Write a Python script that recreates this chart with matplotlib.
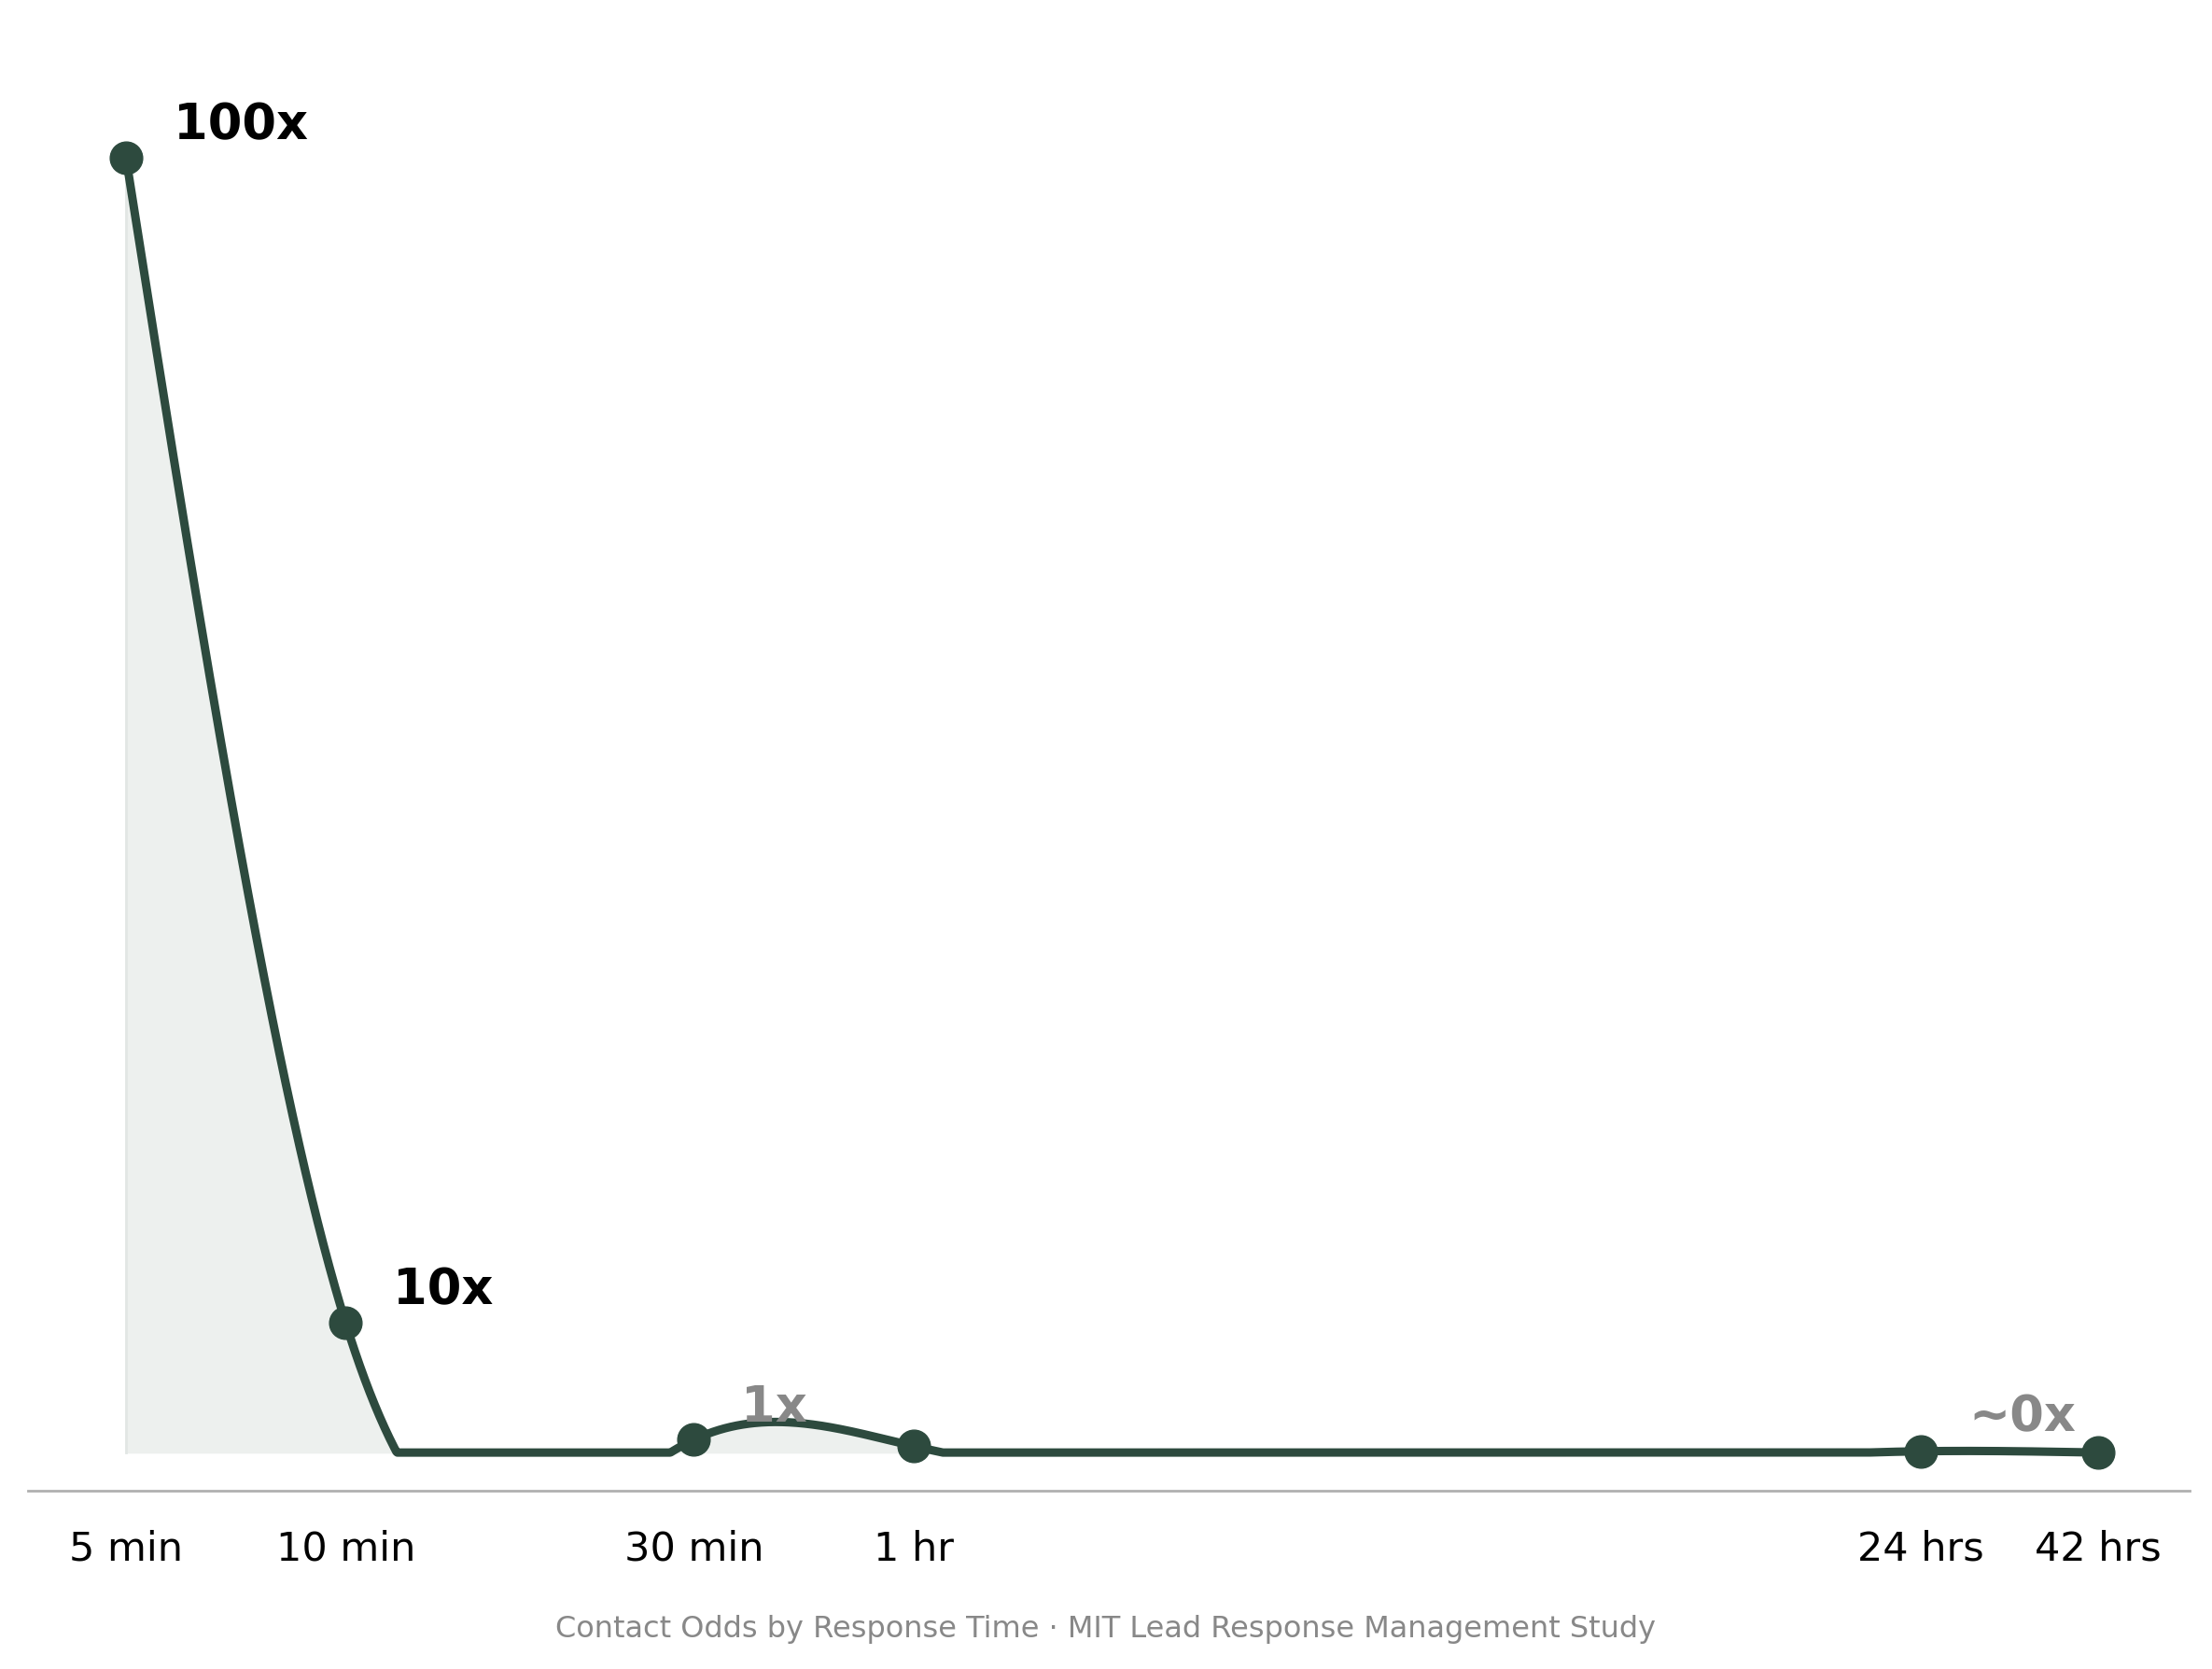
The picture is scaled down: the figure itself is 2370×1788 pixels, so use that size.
import numpy as np
import matplotlib
matplotlib.use("Agg")
import matplotlib.pyplot as plt

labels = ["5 min", "10 min", "30 min", "1 hr", "24 hrs", "42 hrs"]
minutes = [5, 10, 30, 60, 1440, 2520]
odds = [100, 10, 1, 0.5, 0.1, 0.0]
ann_text = ["100x", "10x", "1x", None, "~0x", None]

def natural_spline(x, y, xs):
    x = np.asarray(x, float); y = np.asarray(y, float)
    n = len(x); h = np.diff(x)
    A = np.zeros((n, n)); b = np.zeros(n)
    A[0, 0] = A[-1, -1] = 1
    for i in range(1, n - 1):
        A[i, i - 1] = h[i - 1]; A[i, i] = 2 * (h[i - 1] + h[i]); A[i, i + 1] = h[i]
        b[i] = 3 * ((y[i + 1] - y[i]) / h[i] - (y[i] - y[i - 1]) / h[i - 1])
    c = np.linalg.solve(A, b)
    out = np.empty_like(xs)
    for k, xv in enumerate(xs):
        i = min(max(np.searchsorted(x, xv) - 1, 0), n - 2)
        d = xv - x[i]
        bb = (y[i + 1] - y[i]) / h[i] - h[i] * (2 * c[i] + c[i + 1]) / 3
        dd = (c[i + 1] - c[i]) / (3 * h[i])
        out[k] = y[i] + bb * d + c[i] * d ** 2 + dd * d ** 3
    return out

lx = np.log(minutes)
xs = np.linspace(lx[0], lx[-1], 2000)
ys = np.clip(natural_spline(lx, odds, xs), 0, None)
xe = np.exp(xs)

col = "#2d4a3e"
fig = plt.figure(figsize=(23.7, 17.88), dpi=100)
ax = fig.add_axes([0.0128, 0.1068, 0.977, 0.859])
ax.set_xscale("log")
ax.set_xlim(np.exp(1.301), np.exp(8.12))
ax.set_ylim(-2.95, 107.8)
ax.fill_between(xe, 0, ys, color="#edf0ee", zorder=1)
ax.plot([minutes[0], minutes[0]], [0, odds[0]], color="#e2e6e4", lw=2, zorder=1)
ax.plot(xe, ys, color=col, lw=6.5, zorder=2, solid_capstyle="round")
ax.plot(minutes, odds, "o", color=col, ms=25, zorder=3)
for s in ["top", "left", "right"]:
    ax.spines[s].set_visible(False)
ax.spines["bottom"].set_color("#b0b0b0")
ax.spines["bottom"].set_linewidth(2)
ax.set_yticks([])
ax.set_xticks(minutes)
ax.set_xticklabels(labels, fontsize=31)
ax.xaxis.set_minor_locator(matplotlib.ticker.NullLocator())
ax.tick_params(axis="x", length=0, pad=30)

offs = {0: (np.exp(0.15), 2.5, "black"), 1: (np.exp(0.15), 2.5, "black"),
        2: (np.exp(0.15), 2.5, "#888888"), 4: (np.exp(0.15), 2.5, "#888888")}
for i, t in enumerate(ann_text):
    if t is None:
        continue
    f, dy, c = offs[i]
    xx = minutes[i] * f
    if i == 4:
        xx = minutes[i] * np.exp(0.15)
        ax.text(xx, odds[i] + 2.6, t, fontsize=38, fontweight="bold", color=c, ha="left", va="center")
    else:
        ax.text(xx, odds[i] + dy, t, fontsize=38, fontweight="bold", color=c, ha="left", va="center")

fig.text(0.5, 0.024, "Contact Odds by Response Time · MIT Lead Response Management Study",
         ha="center", va="center", fontsize=23, color="#888888")
fig.savefig("out.png", dpi=100, facecolor="white")
